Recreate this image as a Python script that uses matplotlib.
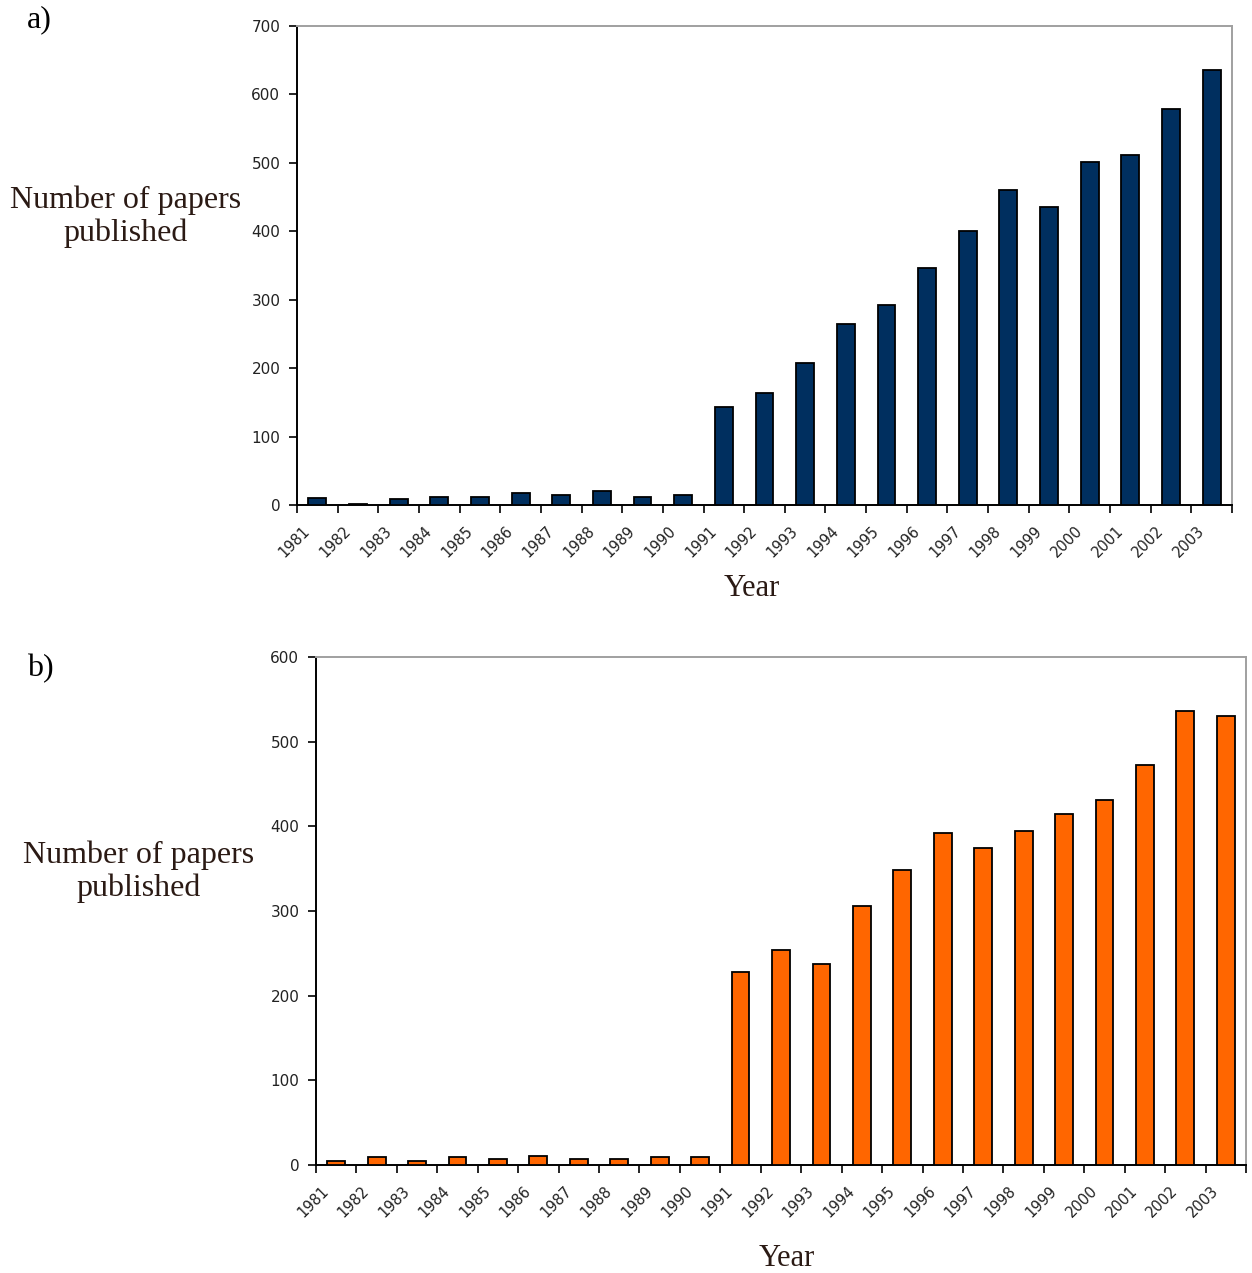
import numpy as np
import matplotlib.pyplot as plt
from matplotlib.ticker import FixedLocator
from matplotlib.transforms import ScaledTranslation

anos = [str(a) for a in range(1981, 2004)]
# painel a)
papers_a = [10, 2, 9, 12, 12, 17, 15, 20, 12, 15,
            143, 163, 208, 265, 292, 347, 401, 460, 436, 501, 512, 578, 635]
# painel b)
papers_b = [5, 9, 5, 9, 7, 11, 7, 7, 9, 9,
            228, 254, 237, 306, 349, 392, 374, 394, 415, 431, 473, 536, 530]

serif = 'Liberation Serif'
sans = 'DejaVu Sans'
marrom = '#2b1a14'

fig = plt.figure(figsize=(12.52, 12.73), dpi=100)
fig.patch.set_facecolor('white')

ax_a = fig.add_axes([297/1252, 1 - 505/1273, 935/1252, 479/1273])
ax_b = fig.add_axes([316/1252, 1 - 1165/1273, 930/1252, 508/1273])

paineis = [
    (ax_a, papers_a, '#002f5f', 700, 'a)', 20, (126/1252, 1 - 217/1273), (752/1252, 1 - 589/1273)),
    (ax_b, papers_b, '#ff6600', 600, 'b)', 669, (139/1252, 1 - 872/1273), (787/1252, 1 - 1259/1273)),
]

x = np.arange(len(anos))
desloc = ScaledTranslation(-0.15, 0, fig.dpi_scale_trans)  # rótulos um pouco à esquerda, como no Excel
for ax, vals, cor, ymax, letra, yl, pos_ylab, pos_xlab in paineis:
    ax.bar(x, vals, width=0.44, color=cor, edgecolor='black', linewidth=1.3, zorder=3)
    ax.set_xlim(-0.5, len(anos) - 0.5)
    ax.set_ylim(0, ymax)
    ax.set_yticks(np.arange(0, ymax + 1, 100))
    ax.tick_params(axis='y', direction='out', length=6, width=1.2, pad=6,
                   labelsize=11, labelcolor='#222222')
    for lab in ax.get_yticklabels():
        lab.set_fontfamily(sans)
    # marcas nos limites das categorias, rótulos no centro
    ax.set_xticks(x)
    ax.set_xticklabels(anos, rotation=45, ha='right', va='top',
                       rotation_mode='anchor', fontsize=10.5, family=sans, color='#222222')
    ax.tick_params(axis='x', which='major', length=0, pad=13)
    for lab in ax.get_xticklabels():
        lab.set_transform(lab.get_transform() + desloc)
    ax.xaxis.set_minor_locator(FixedLocator(np.arange(-0.5, len(anos), 1.0)))
    ax.tick_params(axis='x', which='minor', direction='out', length=6, width=1.2)
    ax.spines['left'].set_linewidth(1.4)
    ax.spines['bottom'].set_linewidth(1.4)
    ax.spines['top'].set_color('#a0a0a0')
    ax.spines['right'].set_color('#a0a0a0')
    ax.spines['top'].set_linewidth(1.4)
    ax.spines['right'].set_linewidth(1.4)

    fig.text(pos_ylab[0], pos_ylab[1], 'Number of papers\npublished', ha='center', va='center',
             family=serif, fontsize=23, color=marrom, linespacing=1.15)
    fig.text(pos_xlab[0], pos_xlab[1], 'Year', ha='center', va='center',
             family=serif, fontsize=22, color=marrom)
    fig.text(27/1252, 1 - yl/1273, letra, ha='left', va='center',
             family=serif, fontsize=23, color='black')

fig.savefig('out.png', dpi=100, facecolor='white')
